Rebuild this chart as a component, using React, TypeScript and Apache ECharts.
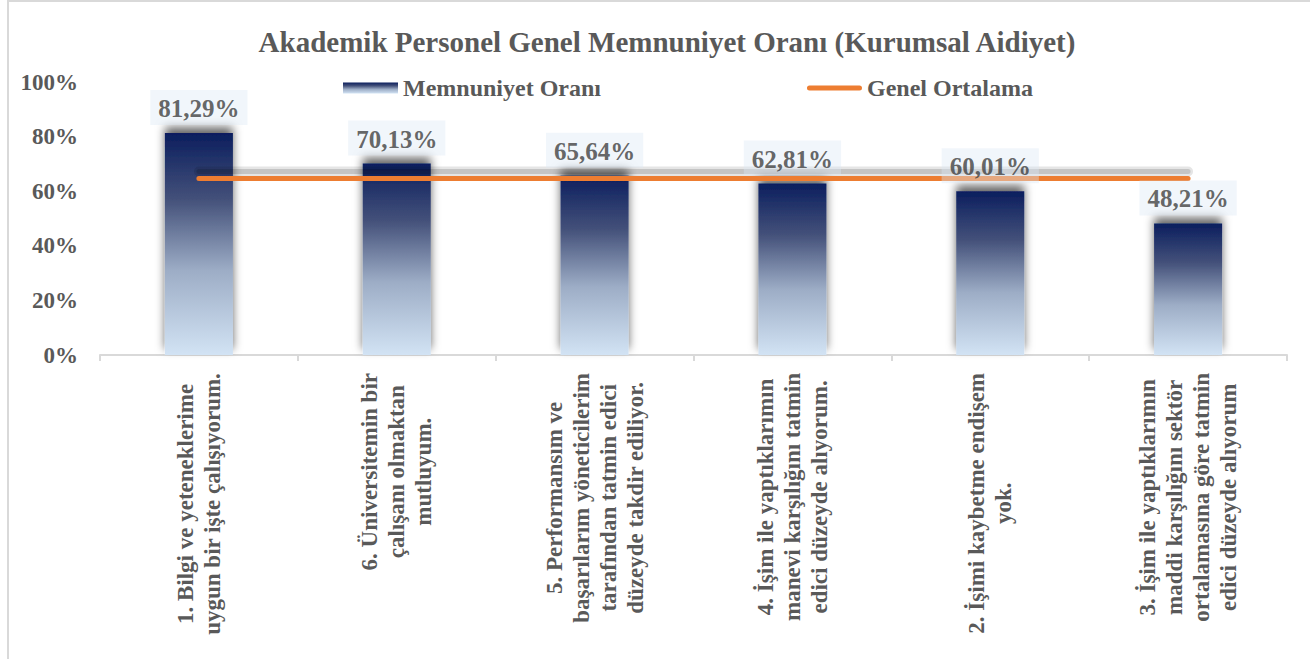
import React, { useEffect, useRef } from "react";
import * as echarts from "echarts";

const categories: string[] = [
  "1. Bilgi ve yeteneklerime\nuygun bir işte çalışıyorum.",
  "6. Üniversitemin bir\nçalışanı olmaktan\nmutluyum.",
  "5. Performansım ve\nbaşarılarım yöneticilerim\ntarafından tatmin edici\ndüzeyde takdir ediliyor.",
  "4. İşim ile yaptıklarımın\nmanevi karşılığını tatmin\nedici düzeyde alıyorum.",
  "2. İşimi kaybetme endişem\nyok.",
  "3. İşim ile yaptıklarımın\nmaddi karşılığını sektör\nortalamasına göre tatmin\nedici düzeyde alıyorum",
];
const memnuniyet: number[] = [81.29, 70.13, 65.64, 62.81, 60.01, 48.21];
const genelOrtalama: number[] = [64.68, 64.68, 64.68, 64.68, 64.68, 64.68];
const seriesNames: string[] = ["Memnuniyet Oranı", "Genel Ortalama"];
const titleText = "Akademik Personel Genel Memnuniyet Oranı (Kurumsal Aidiyet)";

const FONT = '"Liberation Serif", "Times New Roman", serif';
const GRAY = "#595959";
const LINE_ICON =
  "path://M0,0 L0.01,0 L0,0 Z M0,11 L0.01,11 L0,11 Z M2.5,3 L52.5,3 Q55,3 55,5.5 Q55,8 52.5,8 L2.5,8 Q0,8 0,5.5 Q0,3 2.5,3 Z";

export default function App() {
  const ref = useRef<HTMLDivElement>(null);
  useEffect(() => {
    if (!ref.current) return;
    const chart = echarts.init(ref.current, undefined, { renderer: "svg" });
    const barGradient = new echarts.graphic.LinearGradient(0, 0, 0, 1, [
      { offset: 0, color: "#0B1E5E" },
      { offset: 0.3, color: "#44517A" },
      { offset: 0.62, color: "#9DADC6" },
      { offset: 1, color: "#D2E3F4" },
    ]);
    const gridBase = { left: 100, right: 23 };
    chart.setOption({
      animation: false,
      backgroundColor: "#ffffff",
      title: {
        text: titleText,
        left: 662,
        textAlign: "center",
        top: 22,
        textStyle: { fontFamily: FONT, fontSize: 29, fontWeight: "bold", color: GRAY },
      },
      legend: {
        data: [
          { name: seriesNames[0], icon: "rect" },
          { name: seriesNames[1], icon: LINE_ICON },
        ],
        left: 343,
        top: 76,
        padding: 0,
        itemWidth: 55,
        itemHeight: 11,
        itemGap: 206,
        itemTextGap: 3,
        textStyle: { fontFamily: FONT, fontSize: 24, fontWeight: "bold", color: GRAY },
      },
      graphic: [
        {
          type: "rect",
          shape: { x: 8, y: 1, width: 1330, height: 700 },
          style: { fill: "none", stroke: "#D9D9D9", lineWidth: 2 },
          silent: true,
          z: 0,
        },
      ],
      grid: [
        { ...gridBase, top: 82, bottom: 304 },
        { ...gridBase, top: 75, bottom: 311 },
      ],
      xAxis: [
        {
          type: "category",
          data: categories,
          gridIndex: 0,
          axisLine: { show: true, lineStyle: { color: "#D9D9D9", width: 2 } },
          axisTick: { show: true, length: 6, lineStyle: { color: "#D9D9D9", width: 2 } },
          axisLabel: {
            interval: 0,
            rotate: 90,
            margin: 18,
            formatter: (v: string) => v.split("\n").map((l) => `{c|${l}}`).join("\n"),
            rich: {
              c: {
                align: "center",
                fontFamily: FONT,
                fontSize: 23,
                fontWeight: "bold",
                color: GRAY,
                lineHeight: 27,
              },
            },
          },
        },
        { type: "category", data: categories, gridIndex: 1, show: false },
      ],
      yAxis: [
        {
          type: "value",
          gridIndex: 0,
          min: 0,
          max: 100,
          interval: 20,
          axisLine: { show: false },
          axisTick: { show: false },
          splitLine: { show: false },
          axisLabel: {
            formatter: "{value}%",
            margin: 22,
            fontFamily: FONT,
            fontSize: 23,
            fontWeight: "bold",
            color: GRAY,
          },
        },
        { type: "value", gridIndex: 1, min: 0, max: 100, interval: 20, show: false },
      ],
      series: [
        {
          name: seriesNames[0],
          type: "bar",
          data: memnuniyet,
          barWidth: 68,
          z: 2,
          itemStyle: {
            color: barGradient,
            shadowColor: "rgba(0,0,0,0.6)",
            shadowBlur: 10,
            shadowOffsetY: -6,
          },
        },
        {
          name: "shadowWide",
          type: "line",
          xAxisIndex: 1,
          yAxisIndex: 1,
          data: genelOrtalama,
          symbol: "none",
          silent: true,
          z: 3,
          lineStyle: { color: "rgba(0,0,0,0.10)", width: 10, cap: "round" },
        },
        {
          name: "shadowCore",
          type: "line",
          xAxisIndex: 1,
          yAxisIndex: 1,
          data: genelOrtalama,
          symbol: "none",
          silent: true,
          z: 3,
          lineStyle: { color: "rgba(0,0,0,0.14)", width: 5, cap: "round" },
        },
        {
          name: seriesNames[1],
          type: "line",
          data: genelOrtalama,
          symbol: "none",
          z: 4,
          lineStyle: { color: "#ED7D31", width: 5, cap: "round" },
          itemStyle: { color: "#ED7D31" },
        },
        {
          name: "labels",
          type: "scatter",
          data: memnuniyet,
          symbolSize: 0,
          silent: true,
          z: 5,
          label: {
            show: true,
            position: "top",
            distance: 8,
            formatter: (p: any) => p.value.toFixed(2).replace(".", ",") + "%",
            fontFamily: FONT,
            fontSize: 25,
            fontWeight: "bold",
            color: "#404040",
            backgroundColor: "rgba(220,232,246,0.5)",
            padding: [6, 8, 4, 8],
          },
        },
      ],
    });
    return () => chart.dispose();
  }, []);
  return (
    <div
      ref={ref}
      style={{ position: "absolute", left: 0, top: 0, width: 1310, height: 659 }}
    />
  );
}
